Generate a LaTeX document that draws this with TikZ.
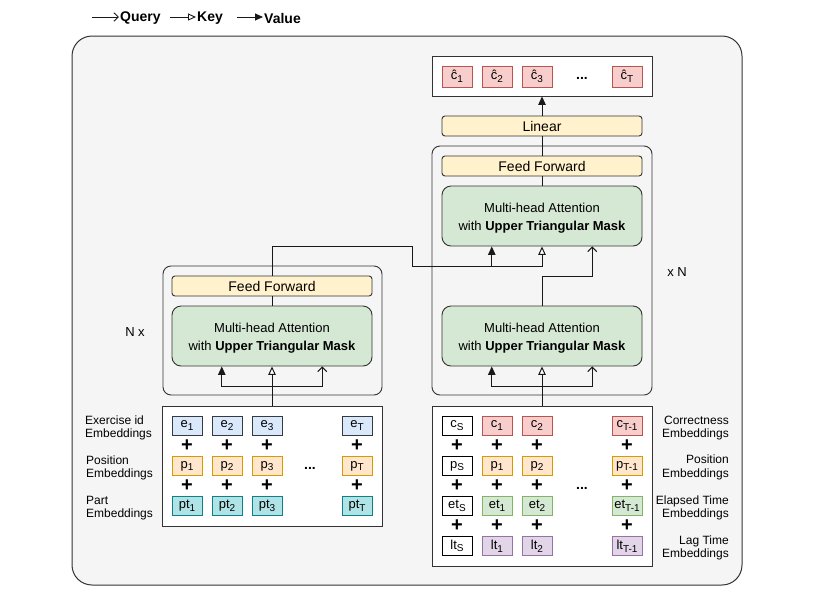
\documentclass[tikz,border=0pt]{standalone}
\usepackage{fontspec}
\setmainfont{Liberation Sans}
\usetikzlibrary{arrows.meta,calc}
\definecolor{bgGray}{HTML}{F5F5F5}
\definecolor{frame}{HTML}{333333}
\definecolor{yelF}{HTML}{FFF2CC}
\definecolor{grnF}{HTML}{D5E8D4}
\definecolor{grnD}{HTML}{82B366}
\definecolor{bluF}{HTML}{DAE8FC}
\definecolor{bluD}{HTML}{36393D}
\definecolor{orgF}{HTML}{FFE6CC}
\definecolor{orgD}{HTML}{D79B00}
\definecolor{tealF}{HTML}{B0E3E6}
\definecolor{tealD}{HTML}{0E8088}
\definecolor{redF}{HTML}{F8CECC}
\definecolor{redD}{HTML}{B85450}
\definecolor{purF}{HTML}{E1D5E7}
\definecolor{purD}{HTML}{9673A6}
\newcommand\sbs[1]{\raisebox{-2.6pt}{\fontsize{10}{10}\selectfont #1}}
\newcommand\topstrut{\rule{0pt}{13.6pt}}
\begin{document}
\begin{tikzpicture}[x=1pt,y=-1pt,
  conn/.style={draw=black!90, line width=1pt},
  val/.style={conn, -{Triangle[length=8.5pt,width=7.5pt]}},
  key/.style={conn, -{Triangle[open,length=8.5pt,width=7.5pt,fill=white]}},
  qry/.style={conn, -{Straight Barb[length=4.5pt,width=9pt]}},
  lgval/.style={conn, line width=0.9pt, -{Triangle[length=8pt,width=7pt]}},
  lgkey/.style={conn, line width=0.9pt, -{Triangle[open,length=8pt,width=7pt,fill=white]}},
  lgqry/.style={conn, line width=0.9pt, -{Straight Barb[length=4.5pt,width=8.5pt]}},
  lgtext/.style={anchor=west, inner sep=0pt, font=\fontsize{14}{14}\selectfont\bfseries},
  block/.style={draw=frame, line width=0.9pt, rounded corners=8pt, fill=bgGray},
  whitebox/.style={draw=frame, line width=0.9pt, fill=white},
  ffbox/.style={draw=frame, line width=0.9pt, rounded corners=3pt, fill=yelF,
     minimum width=200pt, minimum height=20pt, inner sep=0pt, font=\fontsize{14}{14}\selectfont},
  mhabox/.style={draw=frame, line width=0.9pt, rounded corners=9pt, fill=grnF,
     minimum width=200pt, minimum height=60pt, inner sep=0pt, align=center,
     font=\fontsize{13}{18}\selectfont},
  cell/.style={line width=1pt, minimum width=30pt, minimum height=19pt, inner sep=0pt,
     font=\fontsize{13}{13}\selectfont},
  ecell/.style={cell, draw=bluD, fill=bluF},
  pcell/.style={cell, draw=orgD, fill=orgF},
  ptcell/.style={cell, draw=tealD, fill=tealF},
  ccell/.style={cell, draw=redD, fill=redF},
  etcell/.style={cell, draw=grnD, fill=grnF},
  ltcell/.style={cell, draw=purD, fill=purF},
  scell/.style={cell, draw=black, fill=white},
  plus/.style={inner sep=0pt, font=\fontsize{20}{20}\selectfont\bfseries},
  dots/.style={inner sep=0pt, font=\fontsize{14}{14}\selectfont\bfseries},
  lab/.style={inner sep=0pt, font=\fontsize{12}{13.5}\selectfont},
  rep/.style={inner sep=0pt, font=\fontsize{13}{13}\selectfont}
]
\useasboundingbox (0,0) rectangle (822,598);

% legend
\coordinate (q0) at (92,17); \coordinate (q1) at (119,17);
\coordinate (k0) at (170,17); \coordinate (k1) at (196,17);
\coordinate (v0) at (237,17); \coordinate (v1) at (263,17);
\draw[lgqry] (q0) -- (q1);
\node[lgtext] (lq) at (120,18) {Query};
\draw[lgkey] (k0) -- (k1);
\node[lgtext] (lk) at (197,18) {Key};
\draw[lgval] (v0) -- (v1);
\node[lgtext] (lv) at (264,18) {Value};

% big background box
\draw[draw=frame, line width=1pt, fill=bgGray, rounded corners=20pt] (72,36) rectangle (742,585);

% blocks
\node[block, minimum width=219pt, minimum height=129pt] (blkL) at (272.5,330.5) {};
\node[block, minimum width=220pt, minimum height=249pt] (blkR) at (542,270.5) {};

% output box
\node[whitebox, minimum width=220pt, minimum height=40pt] (out) at (542,76) {};
\foreach \x/\t/\n in {457/1/o1,497/2/o2,537/3/o3,627/T/oT}
  \node[ccell, minimum height=21pt] (\n) at (\x,76.5) {\raisebox{-1pt}{ĉ\sbs{\t}}};
\node[dots] (odots) at (582,78) {...};

% linear and decoder internals
\node[ffbox] (lin) at (542,126) {Linear};
\node[ffbox] (ffU) at (542,166) {Feed Forward};
\node[mhabox] (mhaU) at (542,216) {\topstrut Multi-head Attention\\with \textbf{Upper Triangular Mask}};
\node[mhabox] (mhaR) at (542,336) {\topstrut Multi-head Attention\\with \textbf{Upper Triangular Mask}};

% encoder internals
\node[ffbox] (ffL) at (272,286) {Feed Forward};
\node[mhabox] (mhaL) at (272,336) {\topstrut Multi-head Attention\\with \textbf{Upper Triangular Mask}};

\node[rep] (nx) at (135,332) {N x};
\node[rep] (xn) at (677,272) {x N};

% embedding boxes
\node[whitebox, minimum width=220pt, minimum height=120pt] (embL) at (272,466) {};
\node[whitebox, minimum width=220pt, minimum height=160pt] (embR) at (542,486) {};

% left embeddings
\foreach \x/\t/\n in {187/1/1,227/2/2,267/3/3,357/T/T}{
  \node[ecell] (e\n) at (\x,425.5) {e\sbs{\t}};
  \node[pcell] (p\n) at (\x,466) {p\sbs{\t}};
  \node[ptcell] (pt\n) at (\x,506) {pt\sbs{\t}};
  \node[plus] (pa\n) at (\x,446) {+};
  \node[plus] (pb\n) at (\x,486) {+};
}
\node[dots] (ldots) at (310,468) {...};

% right embeddings
\node[scell] (cS) at (457,425.5) {c\sbs{S}};
\node[scell] (pS) at (457,466) {p\sbs{S}};
\node[scell] (etS) at (457,506) {et\sbs{S}};
\node[scell] (ltS) at (457,546) {lt\sbs{S}};
\foreach \x/\t/\n in {497/1/1,537/2/2,627/T-1/T}{
  \node[ccell] (c\n) at (\x,425.5) {c\sbs{\t}};
  \node[pcell] (q\n) at (\x,466) {p\sbs{\t}};
  \node[etcell] (et\n) at (\x,506) {et\sbs{\t}};
  \node[ltcell] (lt\n) at (\x,546) {lt\sbs{\t}};
}
\foreach \x/\n in {457/s,497/1,537/2,627/T}{
  \node[plus] (ra\n) at (\x,446) {+};
  \node[plus] (rb\n) at (\x,486) {+};
  \node[plus] (rc\n) at (\x,526) {+};
}
\node[dots] (rdots) at (582,488) {...};

% labels
\node[lab, align=left, anchor=west] (lb1) at (85,428) {Exercise id\\Embeddings};
\node[lab, align=left, anchor=west] (lb2) at (86,468) {Position\\Embeddings};
\node[lab, align=left, anchor=west] (lb3) at (86,508) {Part\\Embeddings};
\node[lab, align=right, anchor=east] (rb1) at (729,428) {Correctness\\Embeddings};
\node[lab, align=right, anchor=east] (rb2) at (729,467.5) {Position\\Embeddings};
\node[lab, align=right, anchor=east] (rb3) at (729,508) {Elapsed Time\\Embeddings};
\node[lab, align=right, anchor=east] (rb4) at (729,548) {Lag Time\\Embeddings};

% connector coordinates
\coordinate (aL1) at ($(mhaL.south west)!0.25!(mhaL.south east)$);
\coordinate (aL3) at ($(mhaL.south west)!0.75!(mhaL.south east)$);
\coordinate (aR1) at ($(mhaR.south west)!0.25!(mhaR.south east)$);
\coordinate (aR3) at ($(mhaR.south west)!0.75!(mhaR.south east)$);
\coordinate (aU1) at ($(mhaU.south west)!0.25!(mhaU.south east)$);
\coordinate (aU3) at ($(mhaU.south west)!0.75!(mhaU.south east)$);
\coordinate (barL) at (272,386);
\coordinate (barR) at (542,386);
\coordinate (bend1) at (412,246);
\coordinate (j1) at (412,266);
\coordinate (k1) at (542,276);

% encoder connectors
\draw[conn] (embL.north) -- (barL);
\draw[val] (barL) -| (aL1);
\draw[key] (barL) -- (mhaL.south);
\draw[qry] (barL) -| (aL3);
\draw[conn] (mhaL.north) -- (ffL.south);
\draw[conn] (ffL.north) |- (bend1) -- (j1);
\draw[val] (j1) -| (aU1);
\draw[key] (j1) -| (mhaU.south);

% decoder connectors
\draw[conn] (embR.north) -- (barR);
\draw[val] (barR) -| (aR1);
\draw[key] (barR) -- (mhaR.south);
\draw[qry] (barR) -| (aR3);
\draw[qry] (mhaR.north) -- (k1) -| (aU3);
\draw[conn] (mhaU.north) -- (ffU.south);
\draw[conn] (ffU.north) -- (lin.south);
\draw[val] (lin.north) -- (out.south);
\end{tikzpicture}
\end{document}
